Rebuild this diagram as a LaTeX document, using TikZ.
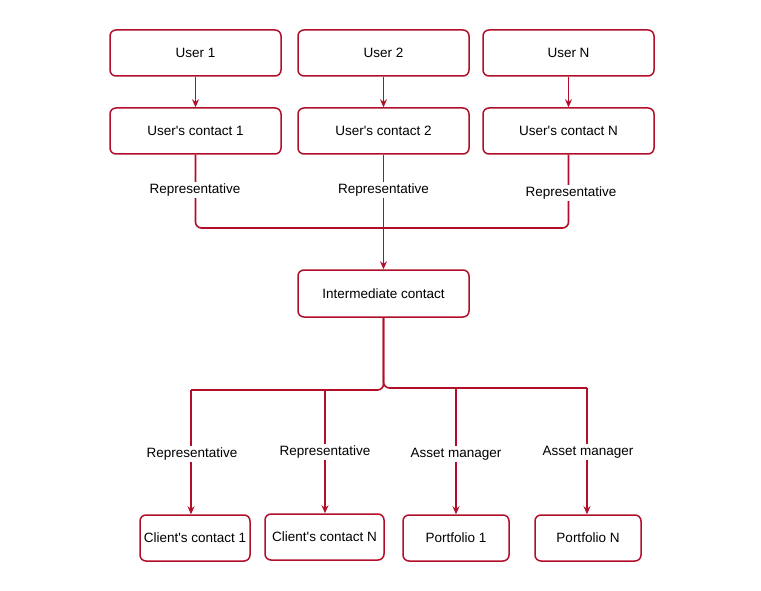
\documentclass[tikz,border=0pt]{standalone}
\usepackage{fontspec}
\setmainfont{Liberation Sans}
\usetikzlibrary{arrows.meta}
\definecolor{edge}{RGB}{178,14,42}
\newcommand{\apos}{\textquotesingle}
\begin{document}
\begin{tikzpicture}[x=1pt,y=-1pt,
  box/.style={draw=edge, line width=1.5pt, rounded corners=6pt, fill=white, inner sep=0pt, font=\fontsize{13.5}{15}\selectfont},
  conn/.style={draw=edge, line width=1.6pt},
  arr/.style={conn, -{Stealth[length=8pt,width=7pt]}},
  lab/.style={fill=white, inner sep=1.5pt, font=\fontsize{13.5}{15}\selectfont}]
\useasboundingbox (0,0) rectangle (761,591);
% top row
\node[box, minimum width=171pt, minimum height=46pt] (u1) at (195.5,53) {User 1};
\node[box, minimum width=171pt, minimum height=46pt] (u2) at (383.5,53) {User 2};
\node[box, minimum width=171pt, minimum height=46pt] (uN) at (568.5,53) {User N};
\node[box, minimum width=171pt, minimum height=46pt] (c1) at (195.5,131) {User\apos s contact 1};
\node[box, minimum width=171pt, minimum height=46pt] (c2) at (383.5,131) {User\apos s contact 2};
\node[box, minimum width=171pt, minimum height=46pt] (cN) at (568.5,131) {User\apos s contact N};
\node[box, minimum width=171pt, minimum height=47pt] (im) at (383.5,293.5) {Intermediate contact};
% bottom row
\node[box, minimum width=110pt, minimum height=46pt] (d1) at (195,538) {Client\apos s contact 1};
\node[box, minimum width=119pt, minimum height=46pt] (d2) at (324.5,537) {Client\apos s contact N};
\node[box, minimum width=106pt, minimum height=46pt] (p1) at (456,538) {Portfolio 1};
\node[box, minimum width=106pt, minimum height=46pt] (pN) at (588,538) {Portfolio N};
% coordinates
\coordinate (jl) at (195.5,228);
\coordinate (jm) at (383.5,228);
\coordinate (jr) at (568.5,228);
\coordinate (bj) at (383.5,389);
\coordinate (b1) at (191,390);
\coordinate (b2) at (325,390);
\coordinate (b3) at (456,388);
\coordinate (b4) at (587,388);
% top arrows
\draw[arr] (u1) -- (c1);
\draw[arr] (u2) -- (c2);
\draw[arr] (uN) -- (cN);
\draw[conn, rounded corners=6pt] (c1.south) -- (jl) -- (jm);
\draw[conn, rounded corners=6pt] (cN.south) -- (jr) -- (jm);
\draw[arr] (c2) -- (im);
\node[lab] at (195,190) {Representative};
\node[lab] at (383.5,190) {Representative};
\node[lab] at (571,193) {Representative};
% bottom connectors
\draw[conn, rounded corners=6pt] (im.south) -- (bj |- b1) -- (b1);
\draw[conn, rounded corners=6pt] (im.south) -- (bj |- b4) -- (b4);
\draw[arr] (b1) -- (b1 |- d1.north);
\draw[arr] (b2) -- (b2 |- d2.north);
\draw[arr] (b3) -- (b3 |- p1.north);
\draw[arr] (b4) -- (b4 |- pN.north);
\node[lab] at (192,454) {Representative};
\node[lab] at (325,452) {Representative};
\node[lab] at (456,454) {Asset manager};
\node[lab] at (588,452) {Asset manager};
\end{tikzpicture}
\end{document}
